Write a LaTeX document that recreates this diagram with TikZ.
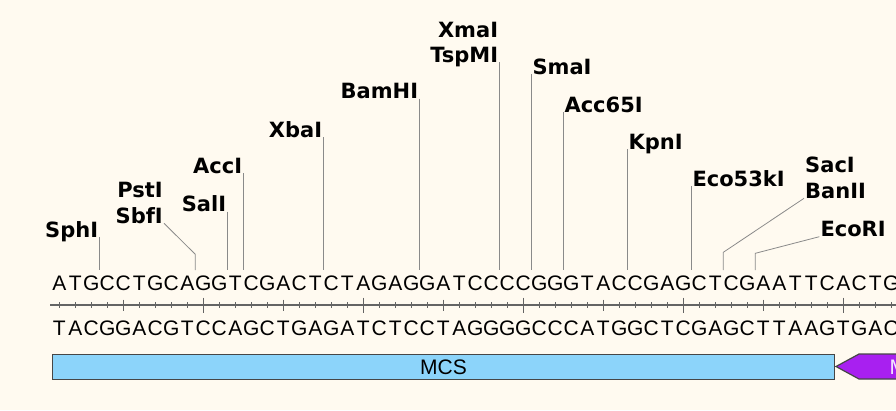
\documentclass[tikz,border=0pt]{standalone}
\usepackage{fontspec}
\setmainfont{DejaVu Sans}
\newfontfamily\seqfont{Liberation Sans}
\usetikzlibrary{calc}
\definecolor{mapbg}{RGB}{255,250,240}
\definecolor{mapedge}{RGB}{70,70,70}
\definecolor{mapline}{RGB}{138,138,138}
\definecolor{maprule}{RGB}{100,100,100}
\definecolor{mcsfill}{RGB}{140,212,250}
\definecolor{primfill}{RGB}{168,32,240}
\definecolor{primtext}{RGB}{245,230,255}
\tikzset{
  enz/.style={font=\fontsize{21}{25}\selectfont\bfseries, inner sep=1pt, text=black},
  enzl/.style={enz, anchor=base east},
  enzr/.style={enz, anchor=base west},
  cut/.style={draw=mapline, line width=0.8pt},
  nt/.style={font=\seqfont\fontsize{21}{25}\selectfont, inner sep=0pt, anchor=base},
  ruler/.style={draw=maprule, line width=2pt},
  tick/.style={draw=maprule, line width=1pt},
  feat/.style={draw=mapedge, line width=1.2pt, inner sep=0pt,
    font=\seqfont\fontsize{21}{25}\selectfont}
}
\begin{document}
\begin{tikzpicture}[x=1pt, y=-1pt]
  \fill[mapbg] (0,0) rectangle (896,410);
  \useasboundingbox (0,0) rectangle (896,410);

  % strands
  \foreach \b [count=\i] in {A,T,G,C,C,T,G,C,A,G,G,T,C,G,A,C,T,C,T,A,G,A,G,G,A,T,C,C,C,C,G,G,G,T,A,C,C,G,A,G,C,T,C,G,A,A,T,T,C,A,C,T,G}
    \node[nt] (t\i) at ({43.3+16*\i},290) {\b};
  \foreach \b [count=\i] in {T,A,C,G,G,A,C,G,T,C,C,A,G,C,T,G,A,G,A,T,C,T,C,C,T,A,G,G,G,G,C,C,C,A,T,G,G,C,T,C,G,A,G,C,T,T,A,A,G,T,G,A,C}
    \node[nt] (b\i) at ({43.3+16*\i},335) {\b};

  % ruler
  \draw[ruler] (50,305) -- (900,305);
  \foreach \i in {1,...,53} {
    \pgfmathsetmacro\h{ifthenelse(mod(\i,10)==0,7.5,ifthenelse(mod(\i,5)==0,5.5,3))}
    \draw[tick] ({43.3+16*\i},305-\h) -- ({43.3+16*\i},305+\h);
  }

  % cut sites
  \coordinate (cSph) at (99.3,270);
  \coordinate (cSbf) at (195.3,270);
  \coordinate (kSbf) at (195.3,254.3);
  \coordinate (cSal) at (227.3,270);
  \coordinate (cAcc) at (243.3,270);
  \coordinate (cXba) at (323.3,270);
  \coordinate (cBam) at (419.3,270);
  \coordinate (cTsp) at (499.3,270);
  \coordinate (cSma) at (531.3,270);
  \coordinate (cAcs) at (563.3,270);
  \coordinate (cKpn) at (627.3,270);
  \coordinate (cEco) at (691.3,270);
  \coordinate (cBan) at (723.3,270);
  \coordinate (kBan) at (723.3,252.3);
  \coordinate (cEri) at (755.3,270);
  \coordinate (kEri) at (755.3,253.3);

  \node[enzl] (sph) at (99.3,237) {SphI};
  \node[enzl] (sbf) at (164,223.3) {SbfI};
  \node[enzl] (pst) at (164,197.3) {PstI};
  \node[enzl] (sal) at (227.3,211.7) {SalI};
  \node[enzl] (acc) at (243.3,173) {AccI};
  \node[enzl] (xba) at (323.3,137) {XbaI};
  \node[enzl] (bam) at (419.3,98.5) {BamHI};
  \node[enzl] (tsp) at (499.3,62) {TspMI};
  \node[enzl] (xma) at (499.3,37) {XmaI};
  \node[enzr] (sma) at (531.3,74) {SmaI};
  \node[enzr] (acs) at (563.3,112.3) {Acc65I};
  \node[enzr] (kpn) at (627.3,149.3) {KpnI};
  \node[enzr] (eco) at (691.3,186) {Eco53kI};
  \node[enzr] (ban) at (804,198.3) {BanII};
  \node[enzr] (sac) at (804,172.8) {SacI};
  \node[enzr] (eri) at (819.3,236.7) {EcoRI};

  \draw[cut] (sph.base east) -- (cSph);
  \draw[cut] (sbf.base east) -- (kSbf) -- (cSbf);
  \draw[cut] (sal.base east) -- (cSal);
  \draw[cut] (acc.base east) -- (cAcc);
  \draw[cut] (xba.base east) -- (cXba);
  \draw[cut] (bam.base east) -- (cBam);
  \draw[cut] (tsp.base east) -- (cTsp);
  \draw[cut] (sma.base west) -- (cSma);
  \draw[cut] (acs.base west) -- (cAcs);
  \draw[cut] (kpn.base west) -- (cKpn);
  \draw[cut] (eco.base west) -- (cEco);
  \draw[cut] (ban.base west) -- (kBan) -- (cBan);
  \draw[cut] (eri.base west) -- (kEri) -- (cEri);

  % features
  \node[feat, fill=mcsfill, anchor=north west, minimum width=781.7pt,
    minimum height=25pt] (mcs) at (52,354) {MCS};
  \draw[draw=mapedge, fill=primfill, line width=1.2pt]
    (836,366.5) -- (859,354) -- (905,354) -- (905,379) -- (859,379) -- cycle;
  \node[feat, draw=none, text=primtext, anchor=west] (prim) at (889,367) {M};
\end{tikzpicture}
\end{document}
